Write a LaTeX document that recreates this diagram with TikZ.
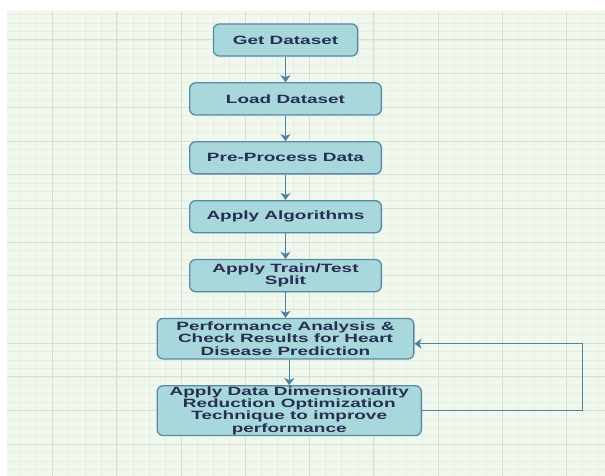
\documentclass[tikz,border=0pt]{standalone}
\usepackage{fontspec}
\usepackage{xcolor}
\usepackage{tikz}
\usetikzlibrary{arrows.meta,positioning}
\newfontfamily\flowfont{Liberation Sans}[FakeStretch=1.58]
\definecolor{hdfill}{RGB}{168,216,220}
\definecolor{hdedge}{RGB}{88,138,168}
\definecolor{hdarrow}{RGB}{78,128,160}
\definecolor{hdtext}{RGB}{38,46,82}
\definecolor{hdpaper}{RGB}{240,247,237}
\definecolor{hdminor}{RGB}{230,239,227}
\definecolor{hdmajor}{RGB}{216,221,214}

\begin{document}
\begin{tikzpicture}[
  node distance=25.5pt,
  stepbox/.style={draw=hdedge, line width=1.3pt, fill=hdfill, rounded corners=6pt, minimum width=191.7pt, minimum height=32.1pt, align=center, text=hdtext, inner xsep=2pt, inner ysep=1pt, font={\flowfont\bfseries\fontsize{12}{12.2}\selectfont}},
  arr/.style={-{Stealth[length=7pt, width=10pt, inset=2pt]}, line width=1.4pt, hdarrow},
  minorline/.style={hdminor, line width=0.6pt},
  majorline/.style={hdmajor, line width=1pt}
]
\useasboundingbox (0,0) rectangle (605pt,-476pt);
% grid paper
\fill[hdpaper] (7pt,-11pt) rectangle (605pt,-476pt);
\begin{scope}
\clip (7pt,-11pt) rectangle (605pt,-476pt);
\foreach \i in {-3,...,35}
  \draw[minorline] ({52.7pt+\i*16.06pt},-11pt) -- ++(0,-465pt);
\foreach \i in {-4,...,53}
  \draw[minorline] (7pt,{-40pt-\i*8.42pt}) -- ++(598pt,0);
\foreach \i in {0,...,8}
  \draw[majorline] ({52.7pt+\i*64.25pt},-11pt) -- ++(0,-465pt);
\foreach \i in {0,...,13}
  \draw[majorline] (7pt,{-40pt-\i*33.67pt}) -- ++(598pt,0);
\end{scope}
% flow steps
\node[stepbox, minimum width=144.2pt] (get) at (285.5pt,-40pt) {Get Dataset};
\node[stepbox, below=of get] (load) {Load Dataset};
\node[stepbox, below=of load] (prep) {Pre-Process Data};
\node[stepbox, below=of prep] (algo) {Apply Algorithms};
\node[stepbox, below=of algo] (split) {Apply Train/Test\\Split};
\node[stepbox, minimum width=256.7pt, minimum height=40.5pt, below=of split] (perf) {Performance Analysis \&\\Check Results for Heart\\Disease Prediction};
\node[stepbox, minimum width=264.2pt, minimum height=48.7pt, below=of perf.south west, anchor=north west] (reduce) {Apply Data Dimensionality\\Reduction Optimization\\Technique to improve\\performance};
\coordinate (loop) at ([xshift=160.6pt]reduce.east);
\draw[arr] (get) -- (load);
\draw[arr] (load) -- (prep);
\draw[arr] (prep) -- (algo);
\draw[arr] (algo) -- (split);
\draw[arr] (split) -- (perf);
\draw[arr] (reduce.north |- perf.south) -- (reduce.north);
\draw[arr] (reduce.east) -- (loop) |- ([yshift=-5pt]perf.east);
\end{tikzpicture}
\end{document}
